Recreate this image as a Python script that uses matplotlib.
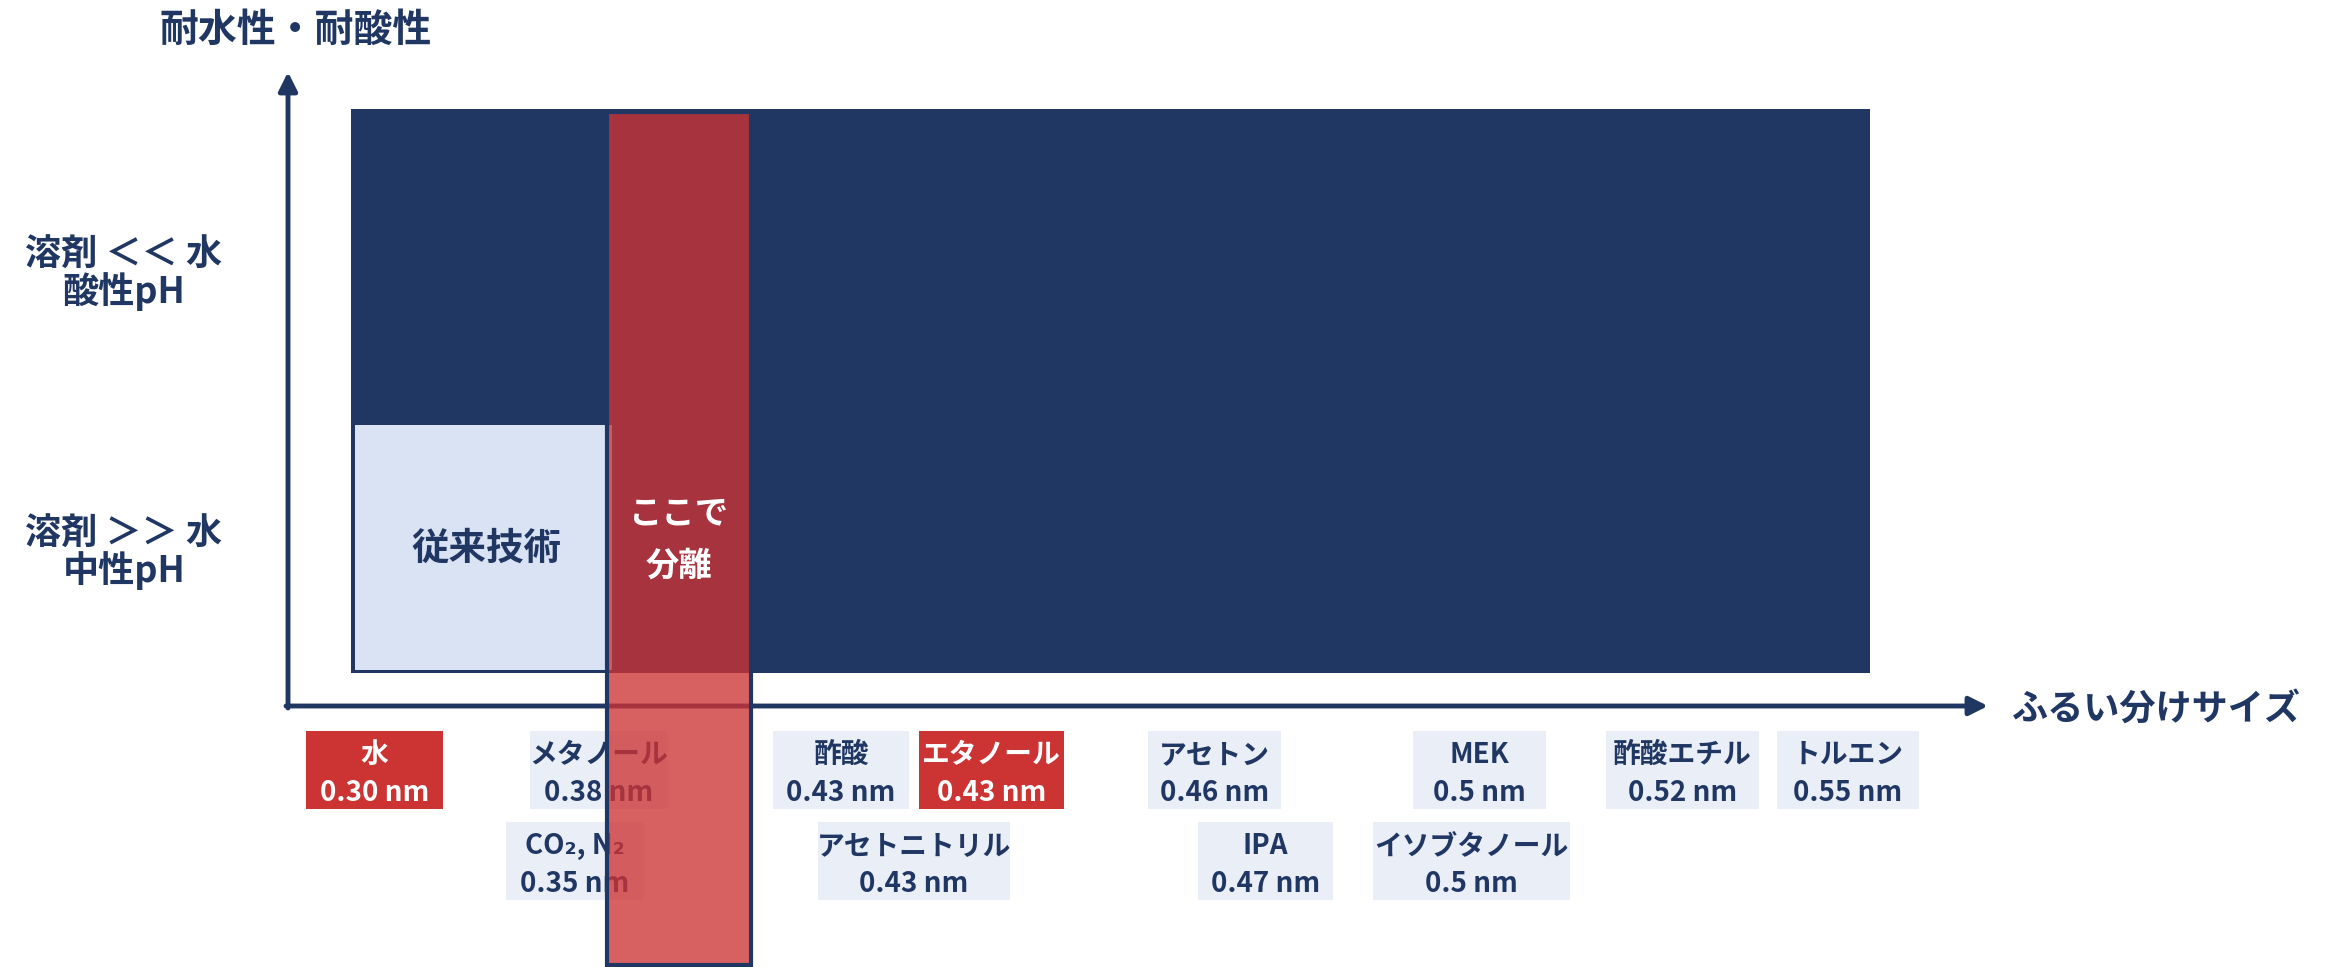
import matplotlib
matplotlib.use('Agg')
import matplotlib.pyplot as plt
from matplotlib.patches import Rectangle

plt.rcParams['font.family'] = ['Noto Sans CJK JP', 'DejaVu Sans']
plt.rcParams['font.weight'] = 'bold'

NAVY = '#213763'
RED = '#cc3333'
LIGHT = '#dae3f3'
PALE = '#e9eef7'

# solvents and their sieve sizes
names = ['水', 'メタノール', 'CO₂, N₂', '酢酸', 'エタノール', 'アセトニトリル',
         'アセトン', 'IPA', 'MEK', 'イソブタノール', '酢酸エチル', 'トルエン']
size_labels = ['0.30 nm', '0.38 nm', '0.35 nm', '0.43 nm', '0.43 nm', '0.43 nm',
               '0.46 nm', '0.47 nm', '0.5 nm', '0.5 nm', '0.52 nm', '0.55 nm']
separated = [True, False, False, False, True, False,
             False, False, False, False, False, False]

# label layout in pixels (left edge, width, row)
box_left = [306, 530, 506, 773, 919, 818, 1148, 1198, 1413, 1373, 1606, 1777]
box_width = [137, 137, 137, 136, 145, 192, 133, 135, 133, 197, 153, 142]
box_row = [0, 0, 1, 0, 0, 1, 0, 1, 0, 1, 0, 0]
row_top = [731, 822]
row_h = 78

fig = plt.figure(figsize=(23.4, 9.67), dpi=100)
ax = fig.add_axes([0, 0, 1, 1])
ax.set_xlim(0, 2340)
ax.set_ylim(967, 0)
ax.axis('off')

# big navy area and conventional-tech box
ax.add_patch(Rectangle((351, 109), 1519, 564, facecolor=NAVY, edgecolor='none', zorder=1))
ax.add_patch(Rectangle((355, 425), 257, 245, facecolor=LIGHT, edgecolor='none', zorder=2))
ax.text(486, 548, '従来技術', ha='center', va='center', fontsize=27, color=NAVY, zorder=3)

# axes arrows
arrow = dict(arrowstyle='-|>', lw=3.5, color=NAVY, mutation_scale=28, shrinkA=0, shrinkB=0)
ax.annotate('', xy=(288, 72), xytext=(288, 708), arrowprops=arrow, zorder=3)
ax.annotate('', xy=(1988, 706), xytext=(286, 706), arrowprops=arrow, zorder=3)

ax.text(296, 30, '耐水性・耐酸性', ha='center', va='center', fontsize=28, color=NAVY)
ax.text(2012, 709, 'ふるい分けサイズ', ha='left', va='center', fontsize=26, color=NAVY)
ax.text(124, 274, '溶剤 ＜＜ 水\n酸性pH', ha='center', va='center', fontsize=26,
        color=NAVY, linespacing=0.95)
ax.text(124, 553, '溶剤 ＞＞ 水\n中性pH', ha='center', va='center', fontsize=26,
        color=NAVY, linespacing=0.95)

# solvent labels
for name, lab, sep, x0, w, r in zip(names, size_labels, separated, box_left, box_width, box_row):
    y0 = row_top[r]
    ax.add_patch(Rectangle((x0, y0), w, row_h, facecolor=RED if sep else PALE,
                           edgecolor='none', zorder=4))
    ax.text(x0 + w / 2, y0 + row_h / 2 + 4, name + '\n' + lab, ha='center', va='center',
            fontsize=20, color='white' if sep else NAVY, linespacing=1.45, zorder=5)

# separation column
ax.add_patch(Rectangle((607, 112), 144, 853, facecolor=RED, alpha=0.78,
                       edgecolor='none', zorder=6))
ax.add_patch(Rectangle((607, 112), 144, 853, facecolor='none', edgecolor=NAVY,
                       lw=3, zorder=6))
ax.text(679, 540, 'ここで\n分離', ha='center', va='center', fontsize=24, color='white',
        linespacing=1.75, zorder=7)

fig.savefig('out.png', dpi=100)
